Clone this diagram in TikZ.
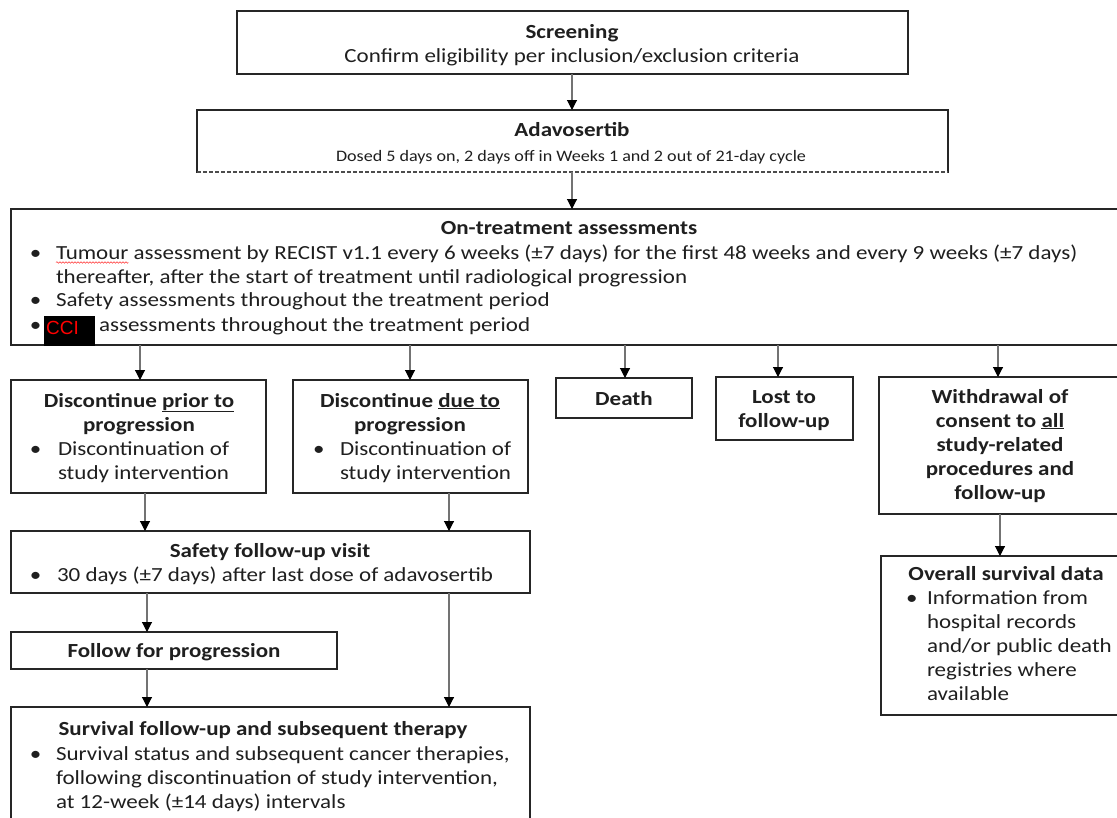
\documentclass[tikz,border=0pt]{standalone}
\usepackage{fontspec}
\setmainfont{Carlito}[FakeStretch=1.15]
\newfontfamily\smallf{Carlito}[FakeStretch=1.13]
\newfontfamily\arialf{Liberation Sans}
\usetikzlibrary{arrows.meta,decorations.pathmorphing}
\begin{document}
\begin{tikzpicture}[x=1pt,y=-1pt,
  box/.style={draw=black!85,line width=1.5pt,inner sep=0pt,outer sep=0pt,anchor=north west},
  arr/.style={draw=black!55,line width=1.1pt,-{Triangle[width=10pt,length=10pt,color=black]}},
  txt/.style={inner sep=0pt,outer sep=0pt,font=\fontsize{20}{24.4}\selectfont,text=black!88},
  ttl/.style={txt,anchor=base,font=\fontsize{20}{24.4}\selectfont\bfseries},
  lft/.style={txt,anchor=base west},
  small/.style={inner sep=0pt,anchor=base,font=\smallf\fontsize{16}{19}\selectfont,text=black!88}]
\path[use as bounding box,clip] (0,0) rectangle (1117,817);
\fill[white] (0,0) rectangle (1117,817);

% boxes
\node[box,minimum width=671pt,minimum height=63pt] (scr) at (237,11) {};
\node[box,minimum width=751pt,minimum height=62pt] (adv) at (197,110) {};
\node[box,minimum width=1116pt,minimum height=136pt] (ont) at (11,209) {};
\node[box,minimum width=255pt,minimum height=113pt] (boxa) at (11,380) {};
\node[box,minimum width=235pt,minimum height=113pt] (boxb) at (293,380) {};
\node[box,minimum width=136pt,minimum height=40pt] (death) at (556,378) {};
\node[box,minimum width=137pt,minimum height=63pt] (lost) at (716,377) {};
\node[box,minimum width=242pt,minimum height=137pt] (wd) at (879,377) {};
\node[box,minimum width=519pt,minimum height=62pt] (safe) at (11,531) {};
\node[box,minimum width=326pt,minimum height=37pt] (fol) at (11,632) {};
\node[box,minimum width=519pt,minimum height=130pt] (surv) at (11,707) {};
\node[box,minimum width=250pt,minimum height=159pt] (os) at (881,556) {};

% dashed look of the Adavosertib bottom edge
\draw[white,line width=1.6pt] (adv.south west) -- (adv.south east);
\draw[black!70,line width=1.2pt,dash pattern=on 4pt off 2pt] (adv.south west) -- (adv.south east);

% Screening
\node[ttl] (t-scr) at (572,38) {Screening};
\node[txt,anchor=base] (t-scr2) at (572,62) {Confirm eligibility per inclusion/exclusion criteria};

% Adavosertib
\node[ttl] (t-adv) at (572,136) {Adavosertib};
\node[small] (t-adv2) at (571,161) {Dosed 5 days on, 2 days off in Weeks 1 and 2 out of 21-day cycle};

% On-treatment
\node[ttl] (t-ont) at (569,234) {On-treatment assessments};
\node[lft] (b1) at (30,259) {•};
\node[lft] (tum) at (56,259) {Tumour};
\node[lft] (l1) at (tum.base east) {\ assessment by RECIST v1.1 every 6 weeks (±7 days) for the first 48 weeks and every 9 weeks (±7 days)};
\node[lft] (l2) at (56,283) {thereafter, after the start of treatment until radiological progression};
\node[lft] (b2) at (30,306) {•};
\node[lft] (l3) at (56,306) {Safety assessments throughout the treatment period};
\node[lft] (b3) at (30,331) {•};
\node[inner sep=0pt,outer sep=0pt,fill=black,minimum width=51pt,minimum height=30pt,anchor=north west] (cci) at (44,316) {};
\node[inner sep=0pt,anchor=base west,text=red,font=\arialf\fontsize{19}{22}\selectfont] (t-cci) at (46,334) {CCI};
\node[lft] (l4) at (99,331) {assessments throughout the treatment period};
\draw[red!80,line width=0.5pt,decorate,decoration={snake,amplitude=0.8pt,segment length=3pt}]
  ([yshift=-3.5pt]tum.base west) -- ([yshift=-3.5pt]tum.base east);

% Discontinue prior to progression
\node[ttl] (ta1) at (139,407) {Discontinue \underline{prior to}};
\node[ttl] (ta2) at (139,431) {progression};
\node[lft] (ba) at (30,455) {•};
\node[lft] (ta3) at (58,455) {Discontinuation of};
\node[lft] (ta4) at (58,479) {study intervention};

% Discontinue due to progression
\node[ttl] (tb1) at (410,407) {Discontinue \underline{due to}};
\node[ttl] (tb2) at (410,431) {progression};
\node[lft] (bb) at (313,455) {•};
\node[lft] (tb3) at (340,455) {Discontinuation of};
\node[lft] (tb4) at (340,479) {study intervention};

% Death, Lost
\node[ttl] (td) at (624,405) {Death};
\node[ttl] (tl1) at (784,403) {Lost to};
\node[ttl] (tl2) at (784,427) {follow-up};

% Withdrawal
\node[ttl] (tw1) at (1000,403) {Withdrawal of};
\node[ttl] (tw2) at (1000,427) {consent to \underline{all}};
\node[ttl] (tw3) at (1000,451) {study-related};
\node[ttl] (tw4) at (1000,475) {procedures and};
\node[ttl] (tw5) at (1000,499) {follow-up};

% Safety follow-up
\node[ttl] (ts1) at (270,557) {Safety follow-up visit};
\node[lft] (bs) at (30,581) {•};
\node[lft] (ts2) at (57,581) {30 days (±7 days) after last dose of adavosertib};

% Follow for progression
\node[ttl] (tf) at (174,657) {Follow for progression};

% Survival
\node[ttl] (tv1) at (263,735) {Survival follow-up and subsequent therapy};
\node[lft] (bv) at (30,760) {•};
\node[lft] (tv2) at (56,760) {Survival status and subsequent cancer therapies,};
\node[lft] (tv3) at (56,784) {following discontinuation of study intervention,};
\node[lft] (tv4) at (56,808) {at 12-week (±14 days) intervals};

% Overall survival
\node[ttl] (to1) at (1006,580) {Overall survival data};
\node[lft] (bo) at (906,604) {•};
\node[lft] (to2) at (927,604) {Information from};
\node[lft] (to3) at (927,628) {hospital records};
\node[lft] (to4) at (927,652) {and/or public death};
\node[lft] (to5) at (927,676) {registries where};
\node[lft] (to6) at (927,700) {available};

% connectors
\draw[arr] (scr.south -| 572,0) -- (adv.north -| 572,0);
\draw[arr] (adv.south -| 572,0) -- (ont.north -| 572,0);
\draw[arr] (ont.south -| 140,0) -- (boxa.north -| 140,0);
\draw[arr] (ont.south -| 410,0) -- (boxb.north -| 410,0);
\draw[arr] (ont.south -| 625,0) -- (death.north -| 625,0);
\draw[arr] (ont.south -| 778,0) -- (lost.north -| 778,0);
\draw[arr] (ont.south -| 998,0) -- (wd.north -| 998,0);
\draw[arr] (boxa.south -| 145,0) -- (safe.north -| 145,0);
\draw[arr] (boxb.south -| 449,0) -- (safe.north -| 449,0);
\draw[arr] (safe.south -| 147,0) -- (fol.north -| 147,0);
\draw[arr] (safe.south -| 449,0) -- (surv.north -| 449,0);
\draw[arr] (fol.south -| 147,0) -- (surv.north -| 147,0);
\draw[arr] (wd.south -| 1000,0) -- (os.north -| 1000,0);
\end{tikzpicture}
\end{document}
